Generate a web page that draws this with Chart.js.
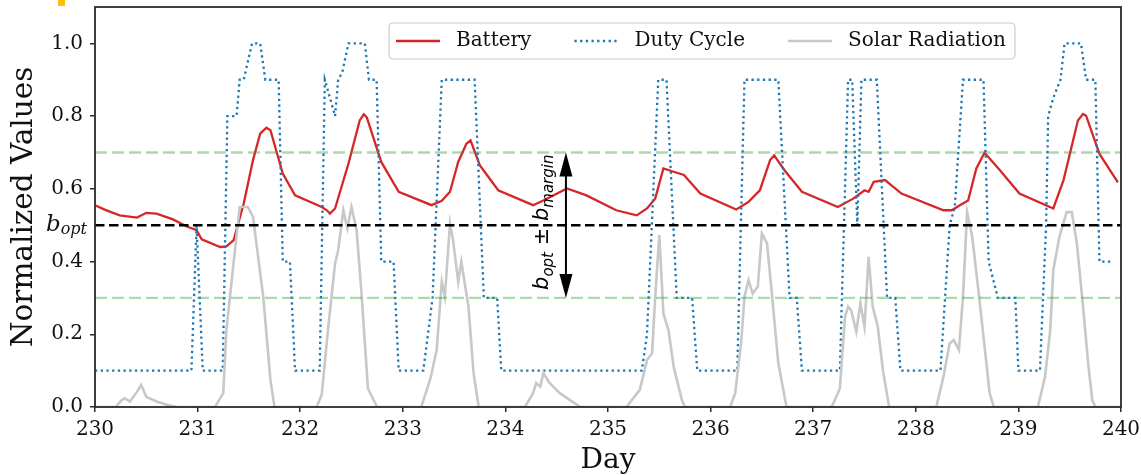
<!DOCTYPE html>
<html>
<head>
<meta charset="utf-8">
<script src="https://cdn.jsdelivr.net/npm/chart.js@4"></script>
<style>
    body { margin: 0; background: #fff; }
    #wrap { position: relative; width: 1141px; height: 475px; }
    #mark { position: absolute; left: 58px; top: 0; width: 7px; height: 6px; background: #ffc000; }
</style>
</head>
<body>
<div id="wrap">
    <canvas id="batteryChart" width="1141" height="475"></canvas>
    <div id="mark"></div>
</div>
<script>
// battery level (normalized)
const batteryDays = [230.00, 230.10, 230.24, 230.41, 230.50, 230.60, 230.76, 230.89, 230.99, 231.04, 231.22, 231.28, 231.35, 231.45, 231.54, 231.61, 231.67, 231.71, 231.83, 231.95,
    232.21, 232.26, 232.29, 232.34, 232.47, 232.58, 232.62, 232.65, 232.79, 232.96, 233.28, 233.38, 233.46, 233.54, 233.62, 233.66, 233.75, 233.93,
    234.27, 234.37, 234.60, 234.79, 235.08, 235.28, 235.38, 235.46, 235.54, 235.64, 235.74, 235.90,
    236.25, 236.37, 236.48, 236.58, 236.62, 236.72, 236.89, 237.24, 237.39, 237.50, 237.54, 237.59, 237.70, 237.86,
    238.27, 238.35, 238.43, 238.51, 238.59, 238.67, 238.82, 239.01, 239.34, 239.44, 239.58, 239.63, 239.66, 239.79, 239.97];
const batteryLevel = [0.555, 0.542, 0.527, 0.521, 0.534, 0.532, 0.516, 0.497, 0.486, 0.461, 0.440, 0.442, 0.458, 0.560, 0.679, 0.752, 0.768, 0.761, 0.642, 0.582,
    0.550, 0.541, 0.532, 0.546, 0.669, 0.788, 0.805, 0.796, 0.674, 0.592, 0.555, 0.567, 0.592, 0.674, 0.724, 0.733, 0.665, 0.596,
    0.555, 0.568, 0.601, 0.582, 0.541, 0.527, 0.546, 0.573, 0.656, 0.647, 0.638, 0.587,
    0.543, 0.564, 0.596, 0.679, 0.692, 0.651, 0.592, 0.550, 0.573, 0.596, 0.592, 0.619, 0.624, 0.587,
    0.541, 0.541, 0.555, 0.568, 0.656, 0.699, 0.651, 0.587, 0.546, 0.624, 0.788, 0.806, 0.801, 0.696, 0.618];

// duty cycle
const dutyDays = [230.00, 230.94, 230.99, 231.05, 231.245, 231.29, 231.38, 231.41, 231.45, 231.53, 231.61, 231.66, 231.79, 231.83, 231.90, 231.95,
    232.19, 232.24, 232.34, 232.37, 232.41, 232.47, 232.63, 232.67, 232.745, 232.79, 232.91, 232.96, 233.20, 233.29, 233.38, 233.70, 233.79, 233.92, 233.96,
    235.33, 235.38, 235.49, 235.57, 235.67, 235.82, 235.87,
    236.26, 236.33, 236.66, 236.77, 236.84, 236.89, 237.26, 237.34, 237.38, 237.43, 237.47, 237.62, 237.72, 237.80, 237.85,
    238.24, 238.33, 238.38, 238.46, 238.66, 238.71, 238.80, 238.97, 239.00, 239.21, 239.27, 239.29, 239.34, 239.41, 239.45, 239.61, 239.66, 239.75, 239.79, 239.92];
const dutyLevel = [0.1, 0.1, 0.5, 0.1, 0.1, 0.8, 0.8, 0.9, 0.9, 1.0, 1.0, 0.9, 0.9, 0.4, 0.4, 0.1,
    0.1, 0.9, 0.8, 0.9, 0.92, 1.0, 1.0, 0.9, 0.9, 0.4, 0.4, 0.1, 0.1, 0.3, 0.9, 0.9, 0.3, 0.3, 0.1,
    0.1, 0.2, 0.9, 0.9, 0.3, 0.3, 0.1,
    0.1, 0.9, 0.9, 0.3, 0.3, 0.1, 0.1, 0.9, 0.9, 0.5, 0.9, 0.9, 0.3, 0.3, 0.1,
    0.1, 0.5, 0.55, 0.9, 0.9, 0.4, 0.3, 0.3, 0.1, 0.1, 0.5, 0.8, 0.85, 0.9, 1.0, 1.0, 0.9, 0.9, 0.4, 0.4];

// solar radiation
const solarDays = [230.00, 230.20, 230.26, 230.29, 230.34, 230.41, 230.45, 230.50, 230.60, 230.70, 230.80,
    231.17, 231.25, 231.28, 231.35, 231.41, 231.49, 231.54, 231.64, 231.71, 231.75,
    232.16, 232.21, 232.27, 232.34, 232.37, 232.42, 232.46, 232.50, 232.55, 232.60, 232.66, 232.75,
    233.18, 233.27, 233.33, 233.38, 233.41, 233.46, 233.49, 233.54, 233.57, 233.64, 233.69, 233.74,
    234.19, 234.27, 234.30, 234.34, 234.37, 234.43, 234.53, 234.63, 234.73,
    235.18, 235.31, 235.38, 235.43, 235.46, 235.50, 235.54, 235.59, 235.64, 235.72, 235.75,
    236.19, 236.24, 236.30, 236.33, 236.37, 236.41, 236.46, 236.50, 236.55, 236.60, 236.66, 236.74,
    237.18, 237.26, 237.31, 237.34, 237.37, 237.42, 237.46, 237.50, 237.54, 237.58, 237.63, 237.68, 237.74,
    238.20, 238.27, 238.33, 238.37, 238.42, 238.46, 238.50, 238.55, 238.61, 238.66, 238.72, 238.76,
    239.19, 239.26, 239.31, 239.34, 239.40, 239.47, 239.52, 239.57, 239.63, 239.68, 239.72, 239.75, 240.00];
const solarLevel = [0, 0, 0.019, 0.024, 0.015, 0.042, 0.061, 0.028, 0.015, 0.006, 0,
    0, 0.038, 0.21, 0.395, 0.55, 0.55, 0.523, 0.303, 0.074, 0,
    0, 0.034, 0.21, 0.395, 0.431, 0.541, 0.491, 0.55, 0.486, 0.303, 0.051, 0,
    0, 0.079, 0.157, 0.344, 0.303, 0.505, 0.459, 0.344, 0.4, 0.276, 0.093, 0,
    0, 0.038, 0.066, 0.056, 0.093, 0.066, 0.038, 0.019, 0,
    0, 0.047, 0.129, 0.148, 0.303, 0.473, 0.257, 0.21, 0.111, 0.019, 0,
    0, 0.038, 0.184, 0.303, 0.349, 0.312, 0.331, 0.477, 0.45, 0.303, 0.12, 0,
    0, 0.051, 0.248, 0.276, 0.266, 0.207, 0.285, 0.22, 0.413, 0.276, 0.22, 0.1, 0,
    0, 0.084, 0.175, 0.184, 0.157, 0.303, 0.536, 0.468, 0.321, 0.193, 0.038, 0,
    0, 0.084, 0.21, 0.377, 0.468, 0.536, 0.536, 0.45, 0.276, 0.12, 0.019, 0, 0];

const xTicks = [230, 231, 232, 233, 234, 235, 236, 237, 238, 239, 240];
const yTicks = [0.0, 0.2, 0.4, 0.6, 0.8, 1.0];

const B_OPT = 0.5;        // optimal battery level
const B_MARGIN = 0.2;     // allowed margin
const ARROW_DAY = 234.59; // where the margin arrow sits

const serif = '"DejaVu Serif", serif';
const sans = '"DejaVu Sans", sans-serif';

function toPoints(days, vals) {
    return days.map((d, i) => ({ x: d, y: vals[i] }));
}

// draw a label made of pieces (main text + subscripts)
function drawPieces(ctx, pieces, x, y) {
    let cx = x;
    pieces.forEach(p => {
        ctx.font = p.font;
        ctx.fillText(p.t, cx, y + (p.dy || 0));
        cx += ctx.measureText(p.t).width;
    });
}

function drawArrowHead(ctx, x, y, dir) {
    // dir = -1 points up, 1 points down
    ctx.beginPath();
    ctx.moveTo(x, y);
    ctx.lineTo(x - 6.5, y - dir * 24);
    ctx.lineTo(x + 6.5, y - dir * 24);
    ctx.closePath();
    ctx.fill();
}

const overlayPlugin = {
    id: 'overlay',
    afterDatasetsDraw(chart) {
        const { ctx, chartArea: a, scales: { x, y } } = chart;
        ctx.save();
        // green margin lines and black b_opt line
        const refs = [
            { v: B_OPT + B_MARGIN, color: 'rgba(44,160,44,0.4)', w: 2.4, dash: [12, 5] },
            { v: B_OPT - B_MARGIN, color: 'rgba(44,160,44,0.4)', w: 2.4, dash: [12, 5] },
            { v: B_OPT, color: '#000', w: 2.6, dash: [9.5, 4.5] }
        ];
        refs.forEach(r => {
            const py = y.getPixelForValue(r.v);
            ctx.strokeStyle = r.color;
            ctx.lineWidth = r.w;
            ctx.setLineDash(r.dash);
            ctx.beginPath();
            ctx.moveTo(a.left, py);
            ctx.lineTo(a.right, py);
            ctx.stroke();
        });
        ctx.setLineDash([]);

        // arrow for b_opt +- b_margin
        const ax = x.getPixelForValue(ARROW_DAY);
        const top = y.getPixelForValue(B_OPT + B_MARGIN);
        const bot = y.getPixelForValue(B_OPT - B_MARGIN);
        ctx.strokeStyle = '#000';
        ctx.fillStyle = '#000';
        ctx.lineWidth = 2;
        ctx.beginPath();
        ctx.moveTo(ax, top + 10);
        ctx.lineTo(ax, bot - 10);
        ctx.stroke();
        drawArrowHead(ctx, ax, top, -1);
        drawArrowHead(ctx, ax, bot, 1);

        // rotated annotation text
        ctx.save();
        ctx.translate(ax - 18, bot - 8);
        ctx.rotate(-Math.PI / 2);
        ctx.textBaseline = 'alphabetic';
        drawPieces(ctx, [
            { t: 'b', font: 'italic 21px ' + sans },
            { t: 'opt', font: 'italic 15px ' + sans, dy: 5 },
            { t: ' \u00b1 ', font: '21px ' + sans },
            { t: 'b', font: 'italic 21px ' + sans },
            { t: 'margin', font: 'italic 15px ' + sans, dy: 5 }
        ], 0, 0);
        ctx.restore();

        // frame
        ctx.strokeStyle = '#2a2a2a';
        ctx.lineWidth = 1.8;
        ctx.strokeRect(a.left, a.top, a.right - a.left, a.bottom - a.top);
        ctx.restore();
    },
    afterDraw(chart) {
        const { ctx, chartArea: a, scales: { y } } = chart;
        ctx.save();
        // b_opt label left of the axis
        ctx.fillStyle = '#111';
        ctx.textBaseline = 'alphabetic';
        const py = y.getPixelForValue(B_OPT);
        drawPieces(ctx, [
            { t: 'b', font: 'italic 23px ' + serif },
            { t: 'opt', font: 'italic 16px ' + serif, dy: 3 }
        ], a.left - 49, py + 6);

        // legend box
        const lx = a.left + 294, ly = a.top + 16, lh = 36;
        ctx.font = '20px ' + serif;
        let cx = lx + 7;
        const items = [];
        chart.data.datasets.forEach(ds => {
            items.push({ ds: ds, x: cx });
            cx += 60 + ctx.measureText(ds.label).width + 43;
        });
        const lw = cx - 43 + 9 - lx;
        ctx.beginPath();
        ctx.roundRect(lx, ly, lw, lh, 4);
        ctx.fillStyle = 'rgba(255,255,255,0.8)';
        ctx.fill();
        ctx.strokeStyle = '#cccccc';
        ctx.lineWidth = 1.2;
        ctx.stroke();
        const my = ly + lh / 2;
        items.forEach(it => {
            ctx.strokeStyle = it.ds.borderColor;
            ctx.lineWidth = it.ds.borderWidth;
            ctx.setLineDash(it.ds.borderDash || []);
            ctx.beginPath();
            ctx.moveTo(it.x, my);
            ctx.lineTo(it.x + 44, my);
            ctx.stroke();
            ctx.setLineDash([]);
            ctx.fillStyle = '#111';
            ctx.textBaseline = 'middle';
            ctx.font = '20px ' + serif;
            ctx.fillText(it.ds.label, it.x + 60, my);
        });
        ctx.restore();
    }
};

const ctx = document.getElementById('batteryChart').getContext('2d');
const batteryChart = new Chart(ctx, {
    type: 'line',
    data: {
        datasets: [
            {
                label: 'Battery',
                data: toPoints(batteryDays, batteryLevel),
                borderColor: '#d62728',
                borderWidth: 2.3,
                order: 3
            },
            {
                label: 'Duty Cycle',
                data: toPoints(dutyDays, dutyLevel),
                borderColor: '#1f77b4',
                borderWidth: 2.3,
                borderDash: [2.3, 3.4],
                order: 2
            },
            {
                label: 'Solar Radiation',
                data: toPoints(solarDays, solarLevel),
                borderColor: '#c8c8c8',
                borderWidth: 2.6,
                order: 1
            }
        ]
    },
    options: {
        responsive: false,
        animation: false,
        devicePixelRatio: 1,
        layout: { padding: { top: 7, right: 20, left: 0, bottom: 0 } },
        elements: {
            point: { radius: 0, hoverRadius: 0 },
            line: { tension: 0, borderCapStyle: 'butt', fill: false }
        },
        plugins: {
            legend: { display: false },
            tooltip: { enabled: false }
        },
        scales: {
            x: {
                type: 'linear',
                min: 230,
                max: 240,
                afterFit: s => { s.height = 68; s.paddingLeft = 0; s.paddingRight = 0; },
                afterBuildTicks: s => { s.ticks = xTicks.map(v => ({ value: v })); },
                ticks: {
                    padding: 6,
                    color: '#111',
                    font: { family: serif, size: 20 },
                    maxRotation: 0,
                    callback: v => String(v)
                },
                grid: { drawOnChartArea: false, drawTicks: true, tickLength: 5, color: '#2a2a2a', lineWidth: 1.5 },
                border: { display: false },
                title: {
                    display: true,
                    text: 'Day',
                    color: '#111',
                    font: { family: serif, size: 28, lineHeight: 1 },
                    padding: { top: 0, bottom: 0 }
                }
            },
            y: {
                type: 'linear',
                min: 0,
                max: 1.1,
                afterFit: s => { s.width = 95; s.paddingTop = 0; s.paddingBottom = 0; },
                afterBuildTicks: s => { s.ticks = yTicks.map(v => ({ value: v })); },
                ticks: {
                    padding: 7,
                    color: '#111',
                    font: { family: serif, size: 20 },
                    callback: v => v.toFixed(1)
                },
                grid: { drawOnChartArea: false, drawTicks: true, tickLength: 5, color: '#2a2a2a', lineWidth: 1.5 },
                border: { display: false },
                title: {
                    display: true,
                    text: 'Normalized Values',
                    color: '#111',
                    font: { family: serif, size: 29.5, lineHeight: 1.2 },
                    padding: { top: 7, bottom: 0 }
                }
            }
        }
    },
    plugins: [overlayPlugin]
});
</script>
</body>
</html>
